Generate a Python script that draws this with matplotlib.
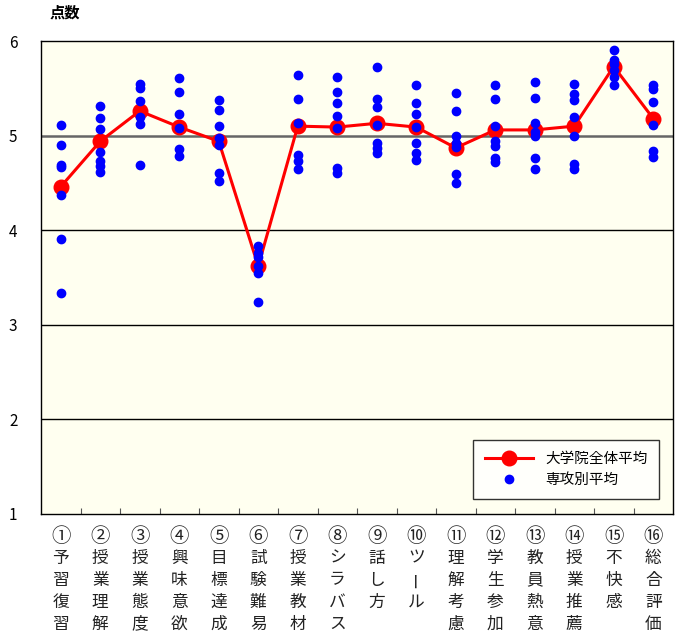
import matplotlib
matplotlib.use("Agg")
import matplotlib.pyplot as plt
from matplotlib.lines import Line2D

plt.rcParams['font.family'] = ['Noto Sans CJK JP', 'DejaVu Sans']

categories = ["①予習復習", "②授業理解", "③授業態度", "④興味意欲", "⑤目標達成",
              "⑥試験難易", "⑦授業教材", "⑧シラバス", "⑨話し方", "⑩ツール",
              "⑪理解考慮", "⑫学生参加", "⑬教員熱意", "⑭授業推薦", "⑮不快感", "⑯総合評価"]

univ_avg = [4.46, 4.94, 5.26, 5.09, 4.94, 3.62, 5.10, 5.09, 5.13, 5.09,
            4.87, 5.06, 5.06, 5.10, 5.73, 5.18]

dept_avg = [
    [5.11, 4.90, 4.69, 4.67, 4.37, 3.91, 3.34],
    [5.31, 5.19, 5.07, 4.83, 4.73, 4.68, 4.62],
    [5.55, 5.50, 5.37, 5.20, 5.12, 4.69],
    [5.61, 5.46, 5.23, 5.08, 4.86, 4.78],
    [5.38, 5.27, 5.10, 4.97, 4.90, 4.60, 4.52],
    [3.83, 3.76, 3.72, 3.62, 3.55, 3.24],
    [5.64, 5.39, 5.13, 4.79, 4.73, 4.65],
    [5.62, 5.46, 5.34, 5.21, 5.08, 4.66, 4.60],
    [5.72, 5.39, 5.30, 5.11, 4.92, 4.87, 4.82],
    [5.53, 5.34, 5.23, 5.09, 4.92, 4.82, 4.74],
    [5.45, 5.26, 5.00, 4.92, 4.88, 4.59, 4.50],
    [5.53, 5.39, 5.10, 4.94, 4.89, 4.76, 4.72],
    [5.57, 5.40, 5.13, 5.04, 5.00, 4.76, 4.65],
    [5.55, 5.44, 5.38, 5.20, 5.00, 4.70, 4.65],
    [5.91, 5.80, 5.76, 5.69, 5.62, 5.53],
    [5.54, 5.49, 5.35, 5.11, 4.84, 4.77],
]

y_ticks = [1, 2, 3, 4, 5, 6]

W, H = 677, 637
fig = plt.figure(figsize=(W/100, H/100), dpi=100)
ax = fig.add_axes([41/W, 1-514/H, 632/W, 473/H])
ax.set_facecolor('#FFFFF0')

n = len(categories)
xs = list(range(n))
ax.set_xlim(-0.5, n - 0.5)
ax.set_ylim(1, 6)

for yv in [2, 3, 4]:
    ax.axhline(yv, color='black', lw=1.0, zorder=1)
ax.axhline(5, color='#666666', lw=1.8, zorder=1)

ax.plot(xs, univ_avg, color='#FF0000', lw=2.2, marker='o', markersize=10.5,
        markerfacecolor='#FF0000', markeredgecolor='#FF0000', zorder=3)

for i, vals in enumerate(dept_avg):
    ax.plot([i] * len(vals), vals, linestyle='none', marker='o', markersize=6,
            color='#0000FF', zorder=4)

ax.set_yticks(y_ticks)
ax.set_yticklabels([str(v) for v in y_ticks], fontsize=11)
ax.tick_params(axis='y', length=0, pad=17)
ax.set_xticks([i + 0.5 for i in range(n - 1)])
ax.set_xticklabels([])
ax.tick_params(axis='x', direction='in', length=4, color='#555555')

for s in ax.spines.values():
    s.set_color('black')
    s.set_linewidth(1.0)

# vertical category labels, one character per line
for i, lab in enumerate(categories):
    xf = (41 + 632 * (i + 0.5) / n) / W
    for k, ch in enumerate(lab):
        yp = 536 + 22 * k
        rot = 90 if ch == 'ー' else 0
        fs = 14 if k == 0 else 12
        fig.text(xf, 1 - yp / H, ch, ha='center', va='center', fontsize=fs,
                 rotation=rot, color='#222222')

fig.text(65/W, 1-13/H, "点数", ha='center', va='center', fontsize=11, fontweight='bold')

handles = [
    Line2D([0], [0], color='#FF0000', lw=2.2, marker='o', markersize=10.5),
    Line2D([0], [0], color='#0000FF', lw=0, marker='o', markersize=6),
]
leg = ax.legend(handles, ["大学院全体平均", "専攻別平均"], loc='lower right',
                bbox_to_anchor=(0.978, 0.032), borderaxespad=0, fontsize=10.5,
                frameon=True, fancybox=False, edgecolor='black', handlelength=3.3,
                handletextpad=0.85, borderpad=0.8, labelspacing=0.5)
leg.get_frame().set_facecolor('white')
leg.get_frame().set_linewidth(1.0)

fig.savefig("out.png", dpi=100)
